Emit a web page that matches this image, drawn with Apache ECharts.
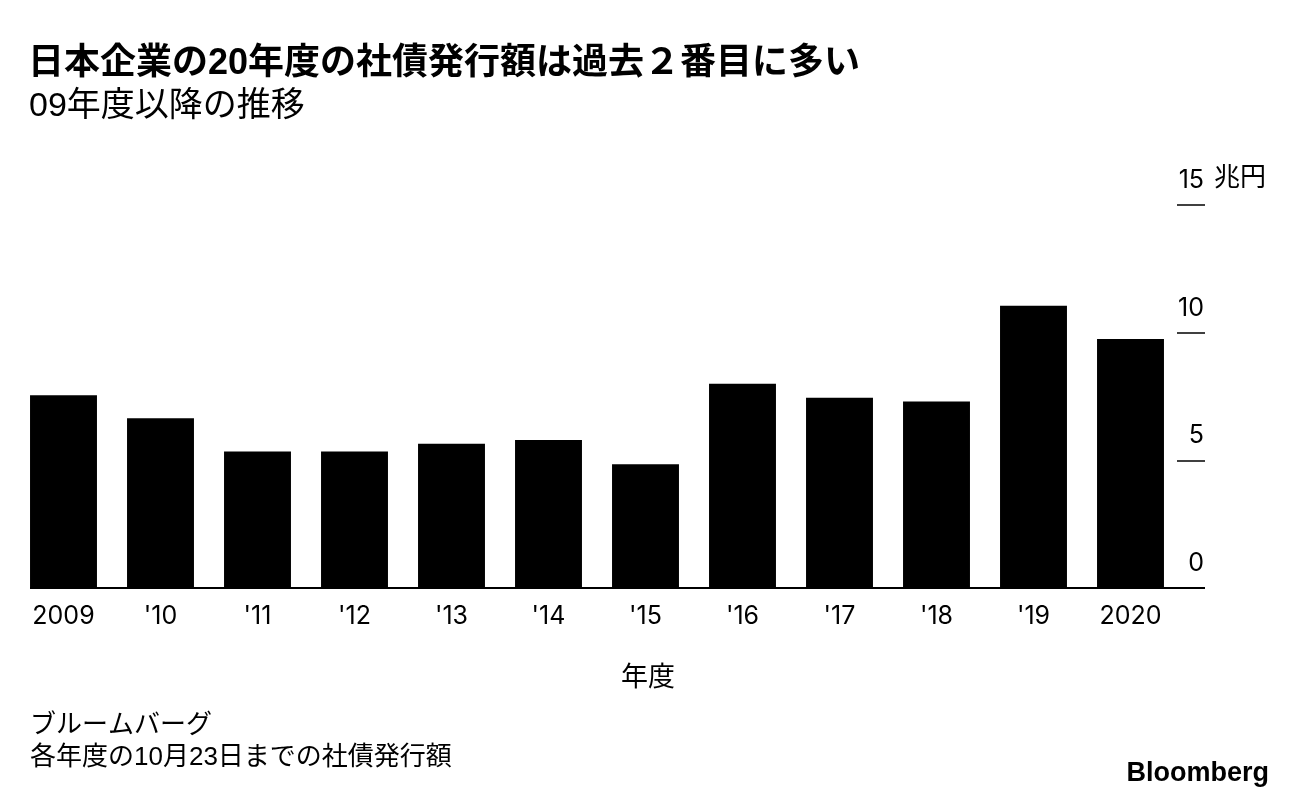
<!DOCTYPE html>
<html><head><meta charset="utf-8">
<script src="https://cdn.jsdelivr.net/npm/echarts@6/dist/echarts.min.js"></script>
<style>html,body{margin:0;padding:0;background:#fff}#c{width:1296px;height:798px}</style>
</head><body><div id="c"></div>
<script>
const categories = ['2009', "'10", "'11", "'12", "'13", "'14", "'15", "'16", "'17", "'18", "'19", '2020'];
const values = [7.55, 6.65, 5.35, 5.35, 5.65, 5.8, 4.85, 8.0, 7.45, 7.3, 11.05, 9.75];
const yTicks = [0, 5, 10, 15];
const titleText = '日本企業の20年度の社債発行額は過去２番目に多い';
const subtitleText = '09年度以降の推移';
const unitText = '兆円';
const xAxisTitle = '年度';
const sourceText = 'ブルームバーグ';
const noteText = '各年度の10月23日までの社債発行額';
const logoText = 'Bloomberg';

const F = "'Liberation Sans','Noto Sans CJK JP',sans-serif";
const FN = "Inter,'Liberation Sans',sans-serif";
const chart = echarts.init(document.getElementById('c'));
const gTop = 205, gBottom = 210;
const yMin = yTicks[0], yMax = yTicks[yTicks.length - 1], yInt = yTicks[1] - yTicks[0];
chart.setOption({
  animation: false,
  backgroundColor: '#fff',
  textStyle: { fontFamily: F, color: '#000' },
  title: [
    { text: titleText, left: 23, top: 41, textStyle: { fontFamily: F, fontSize: 36, fontWeight: 'bold', color: '#000' } },
    { text: subtitleText, left: 24, top: 85, textStyle: { fontFamily: F, fontSize: 34, fontWeight: 'normal', color: '#000' } },
    { text: unitText, left: 1209, top: 161, textStyle: { fontFamily: F, fontSize: 26, fontWeight: 'normal', color: '#000' } },
    { text: xAxisTitle, left: 'center', top: 660, textStyle: { fontFamily: F, fontSize: 27, fontWeight: 'normal', color: '#000' } },
    { text: sourceText, left: 25, top: 708, textStyle: { fontFamily: F, fontSize: 26, fontWeight: 'normal', color: '#000' } },
    { text: noteText, left: 25, top: 740, textStyle: { fontFamily: F, fontSize: 26, fontWeight: 'normal', color: '#000' } },
    { text: logoText, right: 22, top: 755, textStyle: { fontFamily: "'Liberation Sans',Arial,sans-serif", fontSize: 27, fontWeight: 'bold', color: '#000' } }
  ],
  grid: [
    { left: 15, right: 1296 - 1179, top: gTop, bottom: gBottom },
    { left: 30, right: 1296 - 1205, top: gTop, bottom: gBottom },
    { left: 1177, right: 1296 - 1205, top: gTop, bottom: gBottom }
  ],
  xAxis: [
    { gridIndex: 0, type: 'category', data: categories,
      axisLine: { show: false }, axisTick: { show: false },
      axisLabel: { fontFamily: FN, fontSize: 25, color: '#000', margin: 16 } },
    { gridIndex: 1, type: 'value', show: false, min: 0, max: 1 },
    { gridIndex: 2, type: 'value', show: false, min: 0, max: 1 }
  ],
  yAxis: [
    { gridIndex: 0, type: 'value', min: yMin, max: yMax, interval: yInt, show: false },
    { gridIndex: 1, type: 'value', min: yMin, max: yMax, interval: yInt,
      axisLine: { show: false }, axisTick: { show: false }, axisLabel: { show: false },
      splitLine: { show: true, lineStyle: { color: ['#000', 'rgba(0,0,0,0)', 'rgba(0,0,0,0)', 'rgba(0,0,0,0)'], width: 2 } } },
    { gridIndex: 2, type: 'value', min: yMin, max: yMax, interval: yInt, position: 'right',
      axisLine: { show: false }, axisTick: { show: false },
      splitLine: { show: true, lineStyle: { color: '#000', width: 1.5 } },
      axisLabel: { inside: true, fontFamily: FN, fontSize: 25, color: '#000', align: 'right', verticalAlign: 'bottom', padding: [0, 1, 12, 0], margin: 0 } }
  ],
  series: [
    { type: 'bar', xAxisIndex: 0, yAxisIndex: 0, data: values, barCategoryGap: '31%',
      itemStyle: { color: '#000' }, silent: true }
  ]
});
</script></body></html>
